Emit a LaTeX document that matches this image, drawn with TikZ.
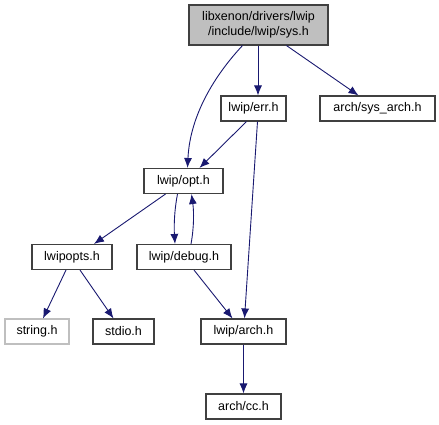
\documentclass[tikz,border=0pt]{standalone}
\usepackage{fontspec}
\setmainfont{Liberation Sans}
\usepackage{xcolor}
\usetikzlibrary{arrows.meta}
\definecolor{edgeblue}{RGB}{25,25,112}
\definecolor{boxgray}{RGB}{191,191,191}

\begin{document}
\begin{tikzpicture}[
  x=1pt, y=-1pt,
  font=\fontsize{12.5}{14.5}\selectfont,
  box/.style={rectangle, draw=black!75, line width=1.1pt, fill=white,
    minimum width=#1, minimum height=25pt, align=center, inner sep=1pt},
  extbox/.style={box=#1, draw=boxgray},
  topbox/.style={box=139pt, fill=boxgray, minimum height=40pt},
  arr/.style={-{Latex[length=10pt, width=8pt]}, draw=edgeblue, line width=0.9pt}
]
\useasboundingbox (0,0) rectangle (439,425);
\node[topbox] (sys) at (258.5,25) {libxenon/drivers/lwip\\/include/lwip/sys.h};
\node[box=65pt] (err) at (253.5,108.5) {lwip/err.h};
\node[box=115pt] (sysarch) at (377.5,108.5) {arch/sys\_arch.h};
\node[box=79pt] (opt) at (183.5,181) {lwip/opt.h};
\node[box=80pt] (lwipopts) at (72,257) {lwipopts.h};
\node[box=94pt] (debug) at (184,257) {lwip/debug.h};
\node[extbox=64pt] (string) at (37,331.5) {string.h};
\node[box=61pt] (stdio) at (123.5,331.5) {stdio.h};
\node[box=85pt] (arch) at (243.5,331.5) {lwip/arch.h};
\node[box=75pt] (cc) at (243.5,406.5) {arch/cc.h};
% edges
\draw[arr] ([xshift=-16pt]sys.south) .. controls (215,75) and (190,115) .. ([xshift=4pt]opt.north);
\draw[arr] ([xshift=-0.5pt]sys.south) -- ([xshift=4.5pt]err.north);
\draw[arr] ([xshift=28pt]sys.south) -- ([xshift=-19pt]sysarch.north);
\draw[arr] ([xshift=-7pt]err.south) -- ([xshift=16pt]opt.north);
\draw[arr] ([xshift=4pt]err.south) -- ([xshift=1pt]arch.north);
\draw[arr] ([xshift=-6pt]opt.south) .. controls (174,212) and (174,228) .. ([xshift=-9pt]debug.north);
\draw[arr] ([xshift=7pt]debug.north) .. controls (194,228) and (194,212) .. ([xshift=8pt]opt.south);
\draw[arr] ([xshift=-18pt]opt.south) -- ([xshift=22pt]lwipopts.north);
\draw[arr] ([xshift=-6pt]lwipopts.south) -- ([xshift=6pt]string.north);
\draw[arr] ([xshift=8pt]lwipopts.south) -- ([xshift=-10pt]stdio.north);
\draw[arr] ([xshift=10pt]debug.south) -- ([xshift=-11pt]arch.north);
\draw[arr] (arch) -- (cc);
\end{tikzpicture}
\end{document}
